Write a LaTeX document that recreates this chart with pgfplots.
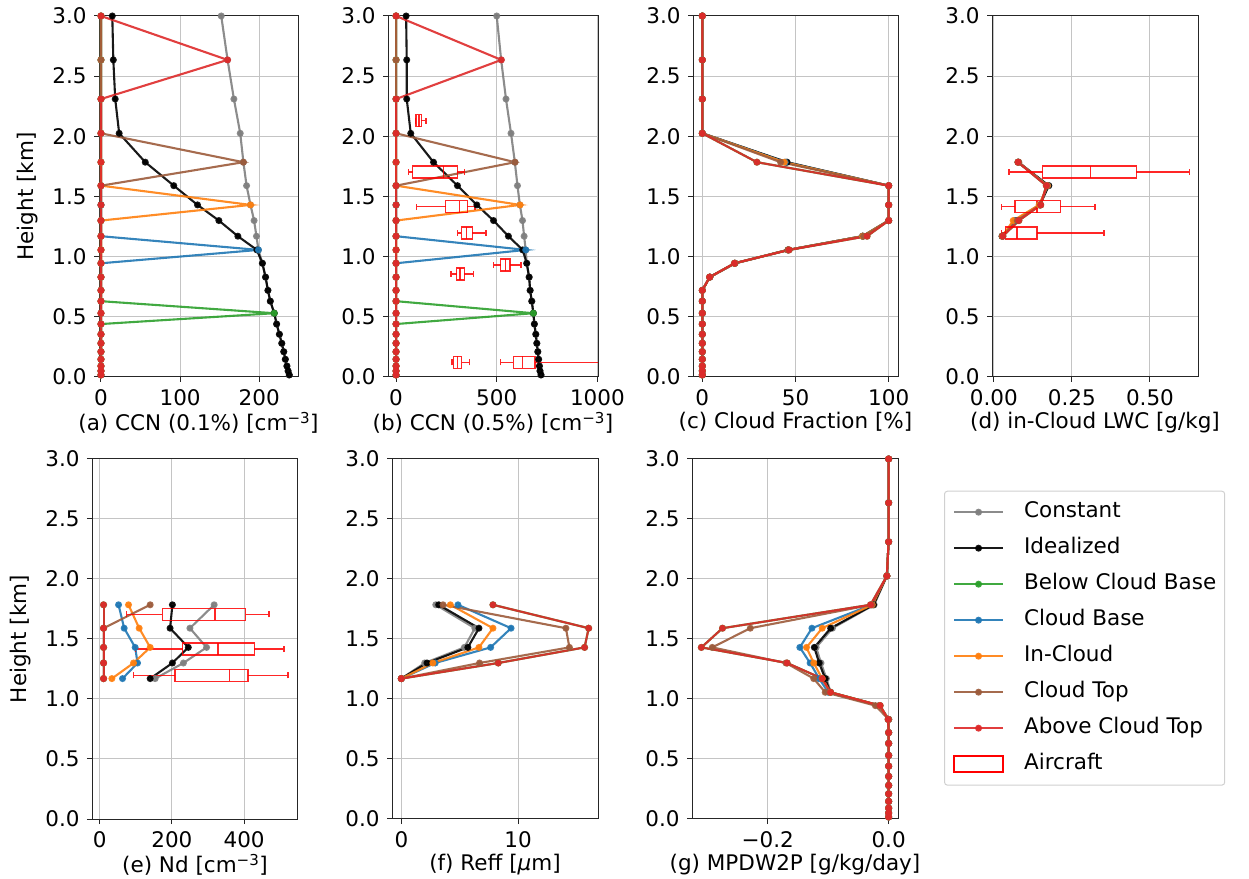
\documentclass[border=0pt]{standalone}
\usepackage{fontspec}
\setmainfont{DejaVu Sans}
\usepackage{pgfplots}
\usepackage{pgfplotstable}
\pgfplotsset{compat=1.18}
\usepgfplotslibrary{statistics}

\definecolor{cgray}{HTML}{7F7F7F}
\definecolor{cgreen}{HTML}{2CA02C}
\definecolor{cblue}{HTML}{1F77B4}
\definecolor{corange}{HTML}{FF7F0E}
\definecolor{cbrown}{HTML}{9C5B3B}
\definecolor{cred}{HTML}{DE2A2A}
\definecolor{gridgray}{HTML}{C4C4C4}
\definecolor{spine}{HTML}{262626}
\definecolor{legframe}{HTML}{D0D0D0}

\newcommand{\fs}{\fontsize{21.5bp}{25bp}\selectfont}

\pgfplotsset{
  panel/.style={
    scale only axis, anchor=south west,
    ymin=0, ymax=3,
    ytick={0,0.5,1,1.5,2,2.5,3},
    yticklabels={0.0,0.5,1.0,1.5,2.0,2.5,3.0},
    xtick pos=lower, ytick pos=left,
    tick align=outside, major tick length=5bp,
    grid=major, grid style={line width=1bp, draw=gridgray},
    axis line style={line width=1bp, draw=spine},
    tick style={line width=1bp, draw=spine},
    tick label style={font=\fs},
    label style={font=\fs},
    xlabel style={yshift=8bp},
  },
  ser/.style={line width=2.1bp, mark=*, mark size=2.4bp, opacity=0.9,
    draw=#1, mark options={fill=#1, draw=#1}},
  acbox/.style={draw=red, line width=1.4bp, mark=none, opacity=0.85,
    boxplot/draw direction=x, boxplot/box extend=0.1, boxplot/whisker extend=0.05},
}

\newcommand{\series}[1]{%
  \addplot[ser=cgray]   table[x=g,  y=h] {#1};
  \addplot[ser=black]   table[x=k,  y=h] {#1};
  \addplot[ser=cgreen]  table[x=gr, y=h] {#1};
  \addplot[ser=cblue]   table[x=b,  y=h] {#1};
  \addplot[ser=corange] table[x=o,  y=h] {#1};
  \addplot[ser=cbrown]  table[x=br, y=h] {#1};
  \addplot[ser=cred]    table[x=r,  y=h] {#1};
}
\newcommand{\acb}[6]{%
  \addplot[acbox, boxplot prepared={lower whisker=#1, lower quartile=#2,
    median=#3, upper quartile=#4, upper whisker=#5, draw position=#6}] coordinates {};
}

% (a) CCN 0.1%
\pgfplotstableread{
h g k gr b o br r
0.017 238 238 0 0 0 0 0
0.05 236.5 236.5 0 0 0 0 0
0.091 235 235 0 0 0 0 0
0.147 233 233 0 0 0 0 0
0.21 231 231 0 0 0 0 0
0.28 228.5 228.5 0 0 0 0 0
0.355 225.5 225.5 0 0 0 0 0
0.44 222 222 0 0 0 0 0
0.53 219 219 219 0 0 0 0
0.63 214 214 0 0 0 0 0
0.72 211 211 0 0 0 0 0
0.83 208 208 0 0 0 0 0
0.945 204 204 0 0 0 0 0
1.056 199 197 0 199 0 0 0
1.17 196.5 173 0 0 0 0 0
1.30 193.5 149 0 0 0 0 0
1.43 189 122 0 0 189 0 0
1.59 184 92 0 0 0 0 0
1.785 180 56 0 0 0 180 0
2.025 176 23 0 0 0 0 0
2.31 168 18 0 0 0 0 0
2.635 160 15.6 0 0 0 0 160
3.0 152 14.3 0 0 0 0 0
}\tabA

% (b) CCN 0.5%
\pgfplotstableread{
h g k gr b o br r
0.017 720 720 0 0 0 0 0
0.05 715 715 0 0 0 0 0
0.091 712 712 0 0 0 0 0
0.147 708 708 0 0 0 0 0
0.21 704 704 0 0 0 0 0
0.28 699 699 0 0 0 0 0
0.355 694 694 0 0 0 0 0
0.44 687 687 0 0 0 0 0
0.53 682 682 682 0 0 0 0
0.63 674 674 0 0 0 0 0
0.72 666 666 0 0 0 0 0
0.83 661 661 0 0 0 0 0
0.945 649 649 0 0 0 0 0
1.056 644 629 0 644 0 0 0
1.17 636 558 0 0 0 0 0
1.30 628 484 0 0 0 0 0
1.43 615 401 0 0 616 0 0
1.59 603 305 0 0 0 0 0
1.785 590 186 0 0 0 591 0
2.025 571 73 0 0 0 0 0
2.31 546 53 0 0 0 0 0
2.635 522 53 0 0 0 0 523
3.0 500 50 0 0 0 0 0
}\tabB

% (c) cloud fraction
\pgfplotstableread{
h g k gr b o br r
0.017 0 0 0 0 0 0 0
0.05 0 0 0 0 0 0 0
0.091 0 0 0 0 0 0 0
0.147 0 0 0 0 0 0 0
0.21 0 0 0 0 0 0 0
0.28 0 0 0 0 0 0 0
0.355 0 0 0 0 0 0 0
0.44 0 0 0 0 0 0 0
0.53 0 0 0 0 0 0 0
0.63 0 0 0 0 0 0 0
0.72 0 0 0 0 0 0 0
0.83 4 4 3.9 4 4 4 3.9
0.945 17.5 17.5 17.2 17.5 17.5 17.5 17.2
1.056 46 46 46.6 46 46 46 46.6
1.17 86 86 88.4 86 86 86.5 88.4
1.30 100 100 100 100 100 100 100
1.43 100 100 100 100 100 100 100
1.59 100 100 100 100 100 100 100
1.785 45 45.5 29.3 44.5 44 42 29.3
2.025 0 0 0 0 0 0 0
2.31 0 0 0 0 0 0 0
2.635 0 0 0 0 0 0 0
3.0 0 0 0 0 0 0 0
}\tabC

% (d) in-cloud LWC
\pgfplotstableread{
h g k gr b o br r
1.17 0.027 0.026 0.029 0.028 0.027 0.028 0.029
1.30 0.072 0.070 0.080 0.068 0.062 0.075 0.080
1.43 0.148 0.147 0.150 0.146 0.145 0.150 0.150
1.59 0.175 0.176 0.168 0.172 0.172 0.170 0.168
1.785 0.078 0.078 0.077 0.078 0.078 0.080 0.077
}\tabD

% (e) Nd
\pgfplotstableread{
h g k gr b o br r
1.17 153.7 140 11 63.5 34 11 11
1.30 232 201.5 11 105 94 11 11
1.43 296 245.5 11 98.5 140 11 11
1.59 250 195 11 68 109.5 11 11
1.785 317 201.5 11 52.5 80 140 11
}\tabE

% (f) Reff
\pgfplotstableread{
h g k gr b o br r
1.17 0 0 0 0 0 0 0
1.30 2.0 2.2 8.3 2.9 2.7 6.7 8.3
1.43 5.4 5.7 15.7 7.65 6.65 14.4 15.7
1.59 6.3 6.65 16.05 9.4 7.85 14.1 16.05
1.785 2.95 3.2 7.85 4.85 4.2 3.57 7.85
}\tabF

% (g) MPDW2P
\pgfplotstableread{
h g k gr b o br r
0.017 0 0 0 0 0 0 0
0.05 0 0 0 0 0 0 0
0.091 0 0 0 0 0 0 0
0.147 0 0 0 0 0 0 0
0.21 0 0 0 0 0 0 0
0.28 0 0 0 0 0 0 0
0.355 0 0 0 0 0 0 0
0.44 0 0 0 0 0 0 0
0.53 0 0 0 0 0 0 0
0.63 0 0 0 0 0 0 0
0.72 0 0 0 0 0 0 0
0.83 0 0 -0.001 0 0 0 -0.001
0.945 -0.015 -0.015 -0.014 -0.015 -0.015 -0.022 -0.014
1.056 -0.096 -0.097 -0.096 -0.100 -0.097 -0.105 -0.096
1.17 -0.103 -0.105 -0.110 -0.115 -0.110 -0.124 -0.110
1.30 -0.112 -0.115 -0.168 -0.130 -0.124 -0.170 -0.168
1.43 -0.120 -0.123 -0.310 -0.147 -0.136 -0.292 -0.310
1.59 -0.093 -0.096 -0.275 -0.127 -0.110 -0.229 -0.275
1.785 -0.024 -0.025 -0.030 -0.028 -0.027 -0.028 -0.030
2.025 -0.003 -0.003 -0.003 -0.003 -0.003 -0.003 -0.003
2.31 0 0 0 0 0 0 0
2.635 0 0 0 0 0 0 0
3.0 0 0 0 0 0 0 0
}\tabG

\begin{document}
\fs
\begin{tikzpicture}
\path[use as bounding box] (0,0) rectangle (1249bp,879bp);

% (a)
\begin{axis}[panel, at={(99bp,502bp)}, width=199bp, height=361bp,
  xmin=-2.5, xmax=249, xtick={0,100,200}, xticklabels={0,100,200},
  ylabel={Height [km]},
  xlabel={(a) CCN (0.1\%) [cm\textsuperscript{−3}]}]
  \series{\tabA}
\end{axis}

% (b)
\begin{axis}[panel, at={(388bp,502bp)}, width=210bp, height=361bp,
  xmin=-40, xmax=1003, xtick={0,500,1000}, xticklabels={0,500,1000},
  xlabel={(b) CCN (0.5\%) [cm\textsuperscript{−3}]}]
  \series{\tabB}
  \acb{96}{100}{113}{125}{148}{2.13}
  \acb{61}{83}{235}{305}{340}{1.705}
  \acb{103}{247}{315}{354}{392}{1.415}
  \acb{306}{325}{351}{379}{447}{1.197}
  \acb{483}{520}{545}{566}{621}{0.93}
  \acb{272}{301}{318}{339}{384}{0.856}
  \acb{277}{285}{305}{326}{364}{0.122}
  \acb{520}{583}{629}{691}{1100}{0.122}
\end{axis}

% (c)
\begin{axis}[panel, at={(693bp,502bp)}, width=205bp, height=361bp,
  xmin=-5, xmax=105, xtick={0,50,100}, xticklabels={0,50,100},
  xlabel={(c) Cloud Fraction [\%]}]
  \series{\tabC}
\end{axis}

% (d)
\begin{axis}[panel, at={(992bp,502bp)}, width=206bp, height=361bp,
  xmin=-0.006, xmax=0.654, xtick={0,0.25,0.5}, xticklabels={0.00,0.25,0.50},
  xlabel={(d) in-Cloud LWC [g/kg]}]
  \series{\tabD}
  \acb{0.048}{0.156}{0.31}{0.456}{0.627}{1.705}
  \acb{0.024}{0.068}{0.138}{0.213}{0.324}{1.415}
  \acb{0.024}{0.038}{0.074}{0.138}{0.353}{1.197}
\end{axis}

% (e)
\begin{axis}[panel, at={(92bp,60bp)}, width=206bp, height=360bp,
  xmin=-21, xmax=549, xtick={0,200,400}, xticklabels={0,200,400},
  ylabel={Height [km]},
  xlabel={(e) Nd [cm\textsuperscript{−3}]}]
  \series{\tabE}
  \acb{74}{174}{319}{404}{469}{1.705}
  \acb{100}{230}{328}{428}{510}{1.415}
  \acb{94}{209}{359}{411}{521}{1.197}
\end{axis}

% (f)
\begin{axis}[panel, at={(392bp,60bp)}, width=206bp, height=360bp,
  xmin=-0.8, xmax=16.85, xtick={0,10}, xticklabels={0,10},
  xlabel={(f) Reff [\textit{μ}m]}]
  \series{\tabF}
\end{axis}

% (g)
\begin{axis}[panel, at={(692bp,60bp)}, width=206bp, height=360bp,
  xmin=-0.3255, xmax=0.0155, xtick={-0.2,0}, xticklabels={−0.2,0.0},
  xlabel={(g) MPDW2P [g/kg/day]},
  legend cell align=left,
  legend image code/.code={\draw[mark repeat=2, mark phase=2, #1]
    plot coordinates {(0bp,0bp) (24.5bp,0bp) (49bp,0bp)};},
  legend style={at={(1.2233,0.912)}, anchor=north west, font=\fs,
    draw=legframe, line width=1bp, rounded corners=3bp, fill=white,
    inner xsep=8.5bp, inner ysep=11bp, row sep=16bp,
    nodes={inner sep=0pt, text height=15.5bp, text depth=4.5bp},
    /tikz/column 1/.style={column sep=20bp}}]
  \series{\tabG}
  \addlegendimage{legend image code/.code={\draw[red, line width=1.4bp, sharp corners]
    (0bp,-8bp) rectangle (49bp,8bp);}}
  \legend{Constant,Idealized,Below Cloud Base,Cloud Base,In-Cloud,Cloud Top,Above Cloud Top,Aircraft}
\end{axis}
\end{tikzpicture}
\end{document}
